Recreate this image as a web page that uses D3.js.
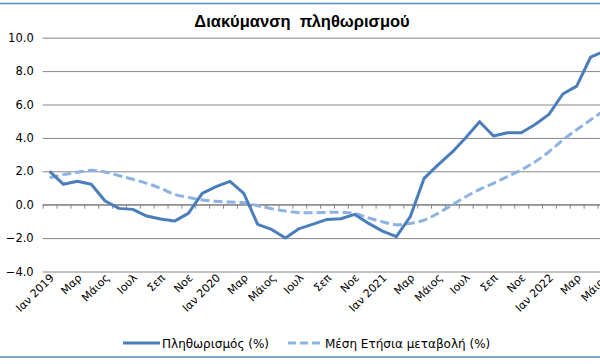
<!DOCTYPE html>
<html><head><meta charset="utf-8">
<script src="https://cdn.jsdelivr.net/npm/d3@7"></script>
<style>body{margin:0;overflow:hidden;background:#fff} svg{display:block}</style>
</head><body><svg id="c" width="600" height="364"></svg>
<script>
const categories = ["Ιαν 2019","Φεβ","Μαρ","Απρ","Μάιος","Ιουν","Ιουλ","Αυγ","Σεπ","Οκτ","Νοε","Δεκ",
  "Ιαν 2020","Φεβ","Μαρ","Απρ","Μάιος","Ιουν","Ιουλ","Αυγ","Σεπ","Οκτ","Νοε","Δεκ",
  "Ιαν 2021","Φεβ","Μαρ","Απρ","Μάιος","Ιουν","Ιουλ","Αυγ","Σεπ","Οκτ","Νοε","Δεκ",
  "Ιαν 2022","Φεβ","Μαρ","Απρ","Μάιος"];
const inflation = [2.0,1.22,1.40,1.22,0.22,-0.22,-0.28,-0.68,-0.86,-0.98,-0.52,0.68,
  1.08,1.40,0.68,-1.18,-1.48,-2.0,-1.43,-1.16,-0.88,-0.84,-0.58,-1.12,
  -1.58,-1.91,-0.72,1.58,2.38,3.13,4.01,4.97,4.11,4.31,4.31,4.8,
  5.41,6.63,7.1,8.83,9.2];
const avgAnnual = [1.62,1.80,1.94,2.06,1.96,1.74,1.52,1.28,0.98,0.62,0.44,0.28,
  0.2,0.16,0.12,-0.06,-0.24,-0.38,-0.48,-0.48,-0.46,-0.46,-0.52,-0.8,
  -1.02,-1.2,-1.12,-0.92,-0.52,-0.02,0.48,0.92,1.28,1.68,2.08,2.57,
  3.17,3.87,4.49,5.08,5.65];
const yTicks = [-4,-2,0,2,4,6,8,10];
const seriesNames = ["Πληθωρισμός (%)","Μέση Ετήσια μεταβολή (%)"];
const title = "Διακύμανση  πληθωρισμού";

const svg = d3.select("#c");
const plotLeft = 42.7, step = 13.87;
const plotRight = plotLeft + categories.length * step;
const plotTop = 37.7, plotBottom = 271.5;

const idx = d3.range(categories.length);
const x = d3.scaleBand().domain(idx).range([plotLeft, plotRight]).padding(0);
const xc = i => x(i) + x.bandwidth() / 2;
const y = d3.scaleLinear().domain([-4, 10]).range([plotBottom, plotTop]);

// border lines
svg.append("line").attr("x1",0).attr("x2",600).attr("y1",3.5).attr("y2",3.5)
  .attr("stroke","#5b87be").attr("stroke-width",1.5);
svg.append("line").attr("x1",0).attr("x2",600).attr("y1",357).attr("y2",357)
  .attr("stroke","#5b87be").attr("stroke-width",1.5);

// title
svg.append("text").attr("x",302).attr("y",27).attr("text-anchor","middle")
  .attr("font-family","Liberation Sans, Arial, sans-serif").attr("font-weight","bold")
  .attr("font-size",16.5).attr("fill","#000").attr("xml:space","preserve").text(title);

// y grid + labels
const yAxis = d3.axisLeft(y).tickValues(yTicks).tickSize(-(plotRight - plotLeft)).tickPadding(9)
  .tickFormat(d3.format(".1f"));
const gy = svg.append("g").attr("transform",`translate(${plotLeft},0)`).call(yAxis);
gy.select(".domain").remove();
gy.selectAll(".tick line").attr("stroke","#868686").attr("stroke-width",1);
gy.selectAll(".tick text").attr("font-family","DejaVu Sans, Verdana, sans-serif")
  .attr("font-size",11.5).attr("fill","#000");

// x axis at zero with tick marks at category boundaries
const xb = d3.scaleLinear().domain([0, categories.length]).range([plotLeft, plotRight]);
const xAxis = d3.axisBottom(xb).tickValues(d3.range(categories.length + 1)).tickSize(4).tickFormat("");
const gx = svg.append("g").attr("transform",`translate(0,${y(0)})`).call(xAxis);
gx.select(".domain").attr("stroke","#868686").attr("d",`M${plotLeft},0H${plotRight}`);
gx.selectAll(".tick line").attr("stroke","#868686");

// x labels
svg.append("g").selectAll("text").data(idx.filter(i => i % 2 === 0)).join("text")
  .attr("transform", i => `translate(${xc(i) + 5},${plotBottom + 7}) rotate(-45)`)
  .attr("text-anchor","end")
  .attr("font-family","DejaVu Sans, Verdana, sans-serif").attr("font-size",11)
  .attr("fill","#000").text(i => categories[i]);

// lines
const lineStraight = d3.line().x((d,i) => xc(i)).y(d => y(d));
const lineSmooth = d3.line().x((d,i) => xc(i)).y(d => y(d)).curve(d3.curveCatmullRom.alpha(0.5));
svg.append("path").datum(avgAnnual).attr("d", lineSmooth).attr("fill","none")
  .attr("stroke","#8db3e2").attr("stroke-width",3).attr("stroke-dasharray","9,4");
svg.append("path").datum(inflation).attr("d", lineStraight).attr("fill","none")
  .attr("stroke","#4a7ebb").attr("stroke-width",3).attr("stroke-linejoin","round");

// legend
const lg = svg.append("g");
const ly = 343;
lg.append("line").attr("x1",123).attr("x2",160).attr("y1",ly).attr("y2",ly)
  .attr("stroke","#4a7ebb").attr("stroke-width",3);
lg.append("text").attr("x",162).attr("y",ly+4.5).attr("font-family","DejaVu Sans, Verdana, sans-serif")
  .attr("font-size",12).attr("fill","#000").text(seriesNames[0]);
lg.append("line").attr("x1",288).attr("x2",320).attr("y1",ly).attr("y2",ly)
  .attr("stroke","#8db3e2").attr("stroke-width",3).attr("stroke-dasharray","8,4");
lg.append("text").attr("x",325).attr("y",ly+4.5).attr("font-family","DejaVu Sans, Verdana, sans-serif")
  .attr("font-size",12).attr("fill","#000").text(seriesNames[1]);
</script></body></html>
